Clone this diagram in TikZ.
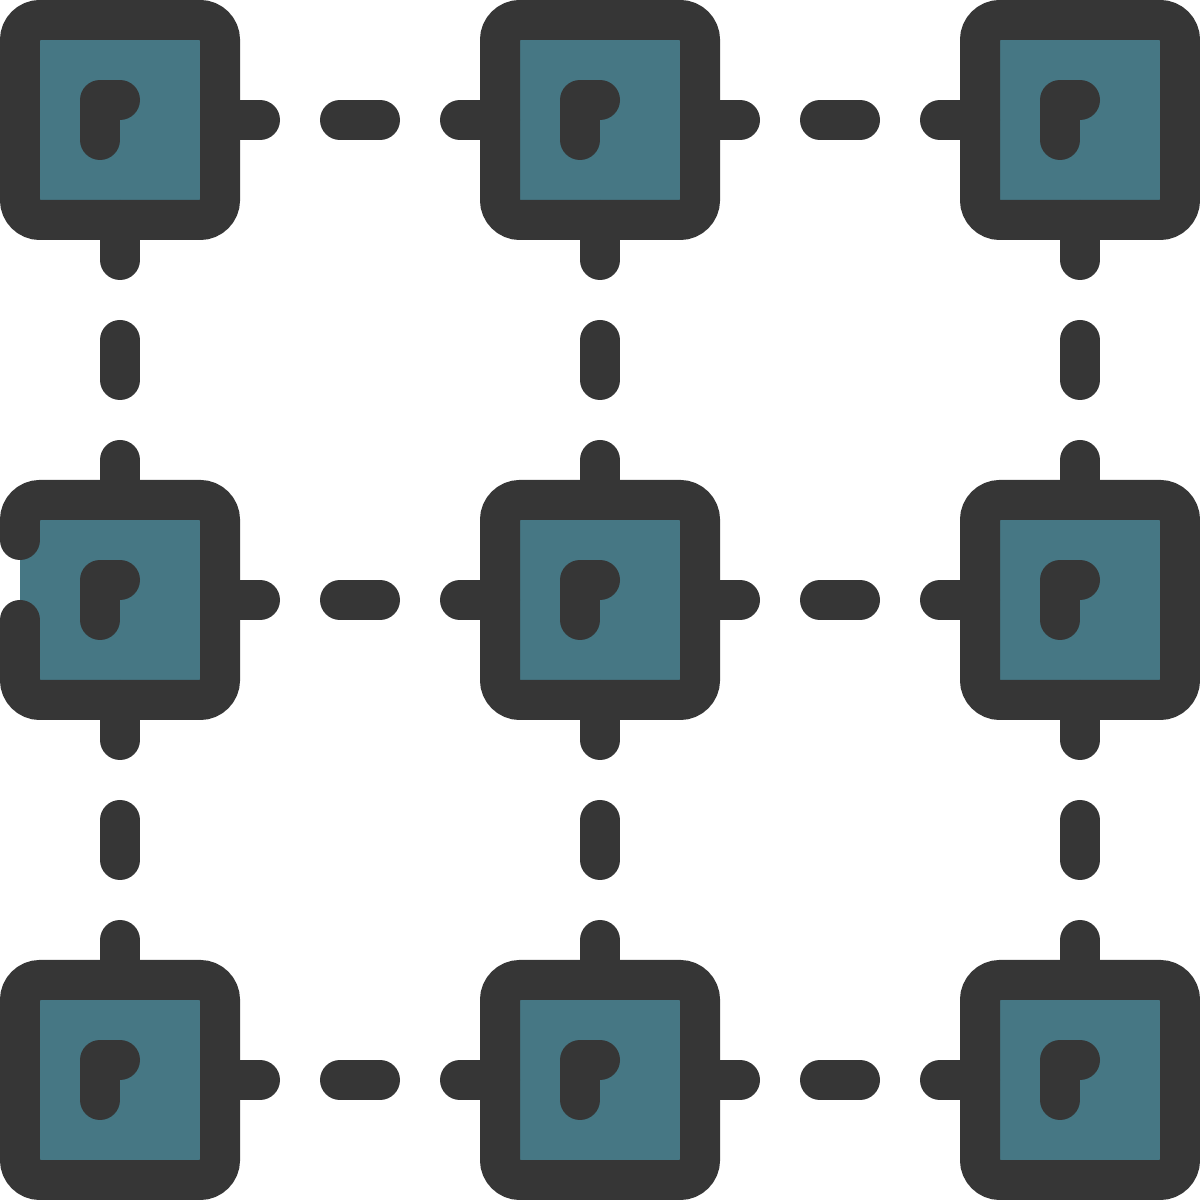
\documentclass[tikz,border=0pt]{standalone}
\usepackage{tikz}
\usetikzlibrary{positioning}
\definecolor{chipteal}{HTML}{467784}
\definecolor{chipgrey}{HTML}{363636}

\begin{document}
\begin{tikzpicture}[
node distance=2.8cm,
chipnode/.style={rectangle, draw=chipgrey, fill=chipteal, line width=4mm, rounded corners=2mm, minimum size=2cm, inner sep=0pt, outer sep=0pt},
openchip/.style={rectangle, fill=chipteal, minimum size=2cm, inner sep=0pt, outer sep=0pt},
outline/.style={draw=chipgrey, line width=4mm, rounded corners=2mm, line cap=round},
link/.style={draw=chipgrey, line width=4mm, line cap=round, dash pattern=on 4mm off 8mm},
glyph/.style={draw=chipgrey, line width=4mm, line cap=round, line join=round},
]
\useasboundingbox (0,0) rectangle (12,12);

%Nodes
\node[chipnode]  (topleft)  at (1.2,10.8)          {};
\node[chipnode]  (topmid)   [right=of topleft]     {};
\node[chipnode]  (topright) [right=of topmid]      {};
\node[openchip]  (midleft)  [below=of topleft]     {};
\node[chipnode]  (middle)   [right=of midleft]     {};
\node[chipnode]  (midright) [right=of middle]      {};
\node[chipnode]  (botleft)  [below=of midleft]     {};
\node[chipnode]  (botmid)   [right=of botleft]     {};
\node[chipnode]  (botright) [right=of botmid]      {};

%Broken edge of the middle left chip
\draw[outline] ([yshift=6mm]midleft.west) -- (midleft.north west) -- (midleft.north east)
  -- (midleft.south east) -- (midleft.south west) -- ([yshift=-2mm]midleft.west);

%Lines
\draw[link] (topleft.east) -- (topmid.west);
\draw[link] (topmid.east) -- (topright.west);
\draw[link] (midleft.east) -- (middle.west);
\draw[link] (middle.east) -- (midright.west);
\draw[link] (botleft.east) -- (botmid.west);
\draw[link] (botmid.east) -- (botright.west);
\draw[link] (topleft.south) -- (midleft.north);
\draw[link] (midleft.south) -- (botleft.north);
\draw[link] (topmid.south) -- (middle.north);
\draw[link] (middle.south) -- (botmid.north);
\draw[link] (topright.south) -- (midright.north);
\draw[link] (midright.south) -- (botright.north);

%Glyphs
\foreach \chip in {topleft,topmid,topright,midleft,middle,midright,botleft,botmid,botright}
  \draw[glyph, shift={(\chip.center)}] (-0.2,-0.2) -- (-0.2,0.2) -- (0,0.2);
\end{tikzpicture}
\end{document}
